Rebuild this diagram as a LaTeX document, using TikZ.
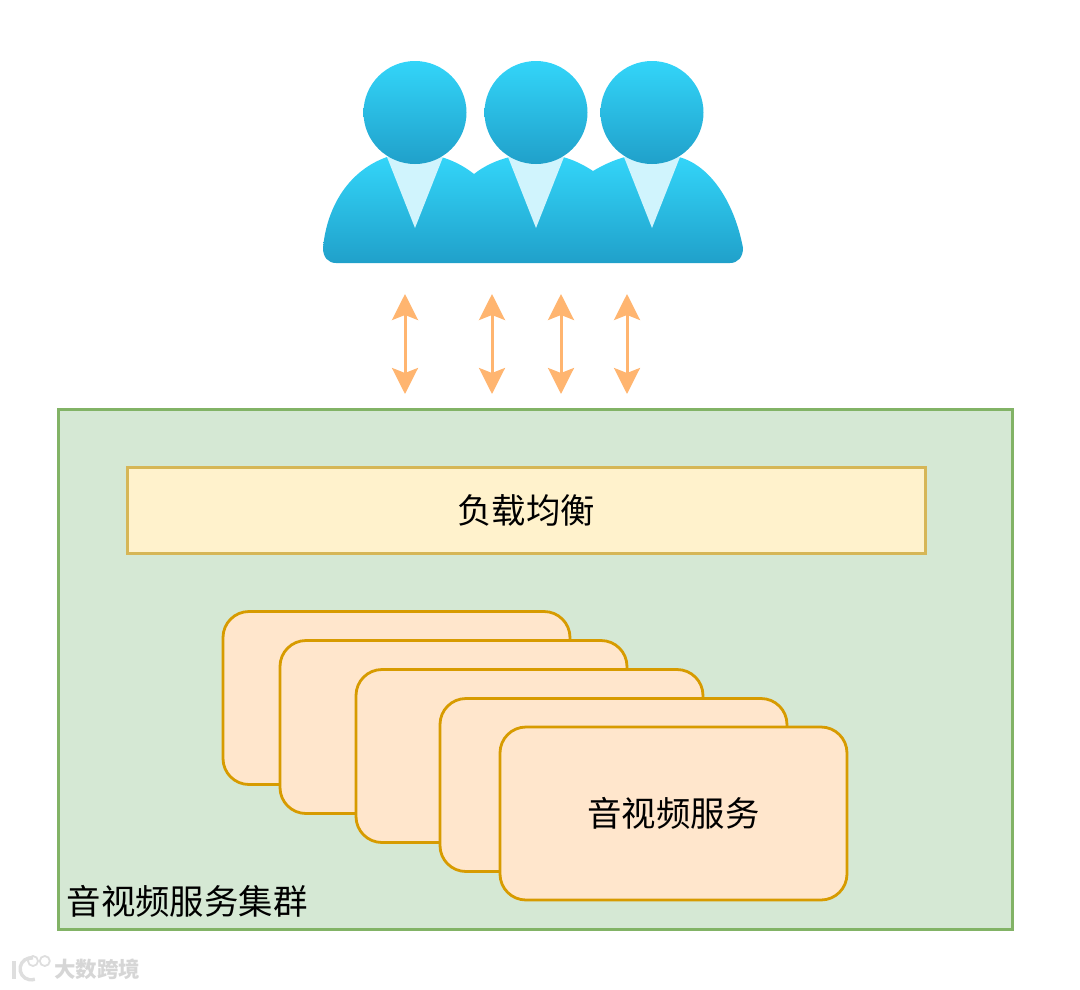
\documentclass[tikz,border=0pt]{standalone}
\usepackage{fontspec}
\usepackage{xcolor}
\usepackage{tikz}
\usetikzlibrary{arrows.meta,positioning}
\setmainfont{Noto Sans CJK SC}
\definecolor{skytop}{HTML}{33D5F9}
\definecolor{skybot}{HTML}{20A0CA}
\definecolor{collar}{HTML}{D0F4FD}
\definecolor{clusterline}{HTML}{82B366}
\definecolor{clusterfill}{HTML}{D5E8D4}
\definecolor{balanceline}{HTML}{D6B656}
\definecolor{balancefill}{HTML}{FFF2CC}
\definecolor{serviceline}{HTML}{D79B00}
\definecolor{servicefill}{HTML}{FFE6CC}
\definecolor{arrowline}{HTML}{FFB570}
\begin{document}
\begin{tikzpicture}[
  x=1pt, y=-1pt,
  font=\fontsize{34.4}{40}\selectfont,
  cluster/.style={draw=clusterline, line width=3pt, fill=clusterfill,
                  minimum width=954pt, minimum height=520pt, inner sep=0pt},
  balance/.style={draw=balanceline, line width=3pt, fill=balancefill,
                  minimum width=798pt, minimum height=86pt, inner sep=0pt},
  service/.style={draw=serviceline, line width=2.8pt, fill=servicefill, rounded corners=26pt,
                  minimum width=347pt, minimum height=173pt, inner sep=0pt},
  head/.style={circle, minimum size=103pt, inner sep=0pt,
               top color=skytop, middle color=skytop!72!skybot, bottom color=skybot},
  body/.style={top color=skytop, middle color=skytop!78!skybot, bottom color=skybot},
  arr/.style={{Stealth[length=26pt,width=26pt,inset=5pt]}-{Stealth[length=26pt,width=26pt,inset=5pt]},
              line width=3pt, arrowline},
  stampmark/.style={black!13, line width=3.4pt}
]
\useasboundingbox (0,0) rectangle (1080,989);
% --- users ---
\path[body] (336,263) .. controls (328,263) and (323,257) .. (323,248)
  .. controls (327,205) and (350,170) .. (387,157)
  -- (441,157) .. controls (452,160) and (464,166) .. (474,174)
  .. controls (484,166) and (497,160) .. (510,157)
  -- (563,157) .. controls (574,160) and (584,165) .. (593,171)
  .. controls (603,165) and (614,160) .. (625,157)
  -- (679,157) .. controls (712,166) and (735,205) .. (743,248)
  .. controls (743,257) and (738,263) .. (730,263) -- cycle;
\foreach \x in {415,536,652} {
  \fill[collar] (\x-28,157) -- (\x+28,157) -- (\x,228) -- cycle;
}
\node[head] (user1) at (415,112.5) {};
\node[head] (user2) at (536,112.5) {};
\node[head] (user3) at (652,112.5) {};
% --- cluster ---
\node[cluster] (group) at (535,669) {};
\node[balance] (lb) at (526,510) {\raisebox{-1pt}{负载均衡}};
\node[service] (svc1) at (396.5,698) {};
\node[service] (svc2) at (453.5,727) {};
\node[service] (svc3) at (529.5,756) {};
\node[service] (svc4) at (613.5,785) {};
\node[service] (svc5) at (673.5,813.5) {音视频服务};
\node[anchor=west, inner sep=0pt] (grouplabel) at (66.5,901) {音视频服务集群};
% --- arrows ---
\foreach \x [count=\i] in {405,492,561,627} {
  \coordinate (top\i) at (\x,294);
  \coordinate (bot\i) at (\x,394);
  \draw[arr] (top\i) -- (bot\i);
}
% --- watermark ---
\node[anchor=west, inner sep=0pt, black!16, font=\fontsize{21.5}{24}\selectfont\bfseries] (stamp) at (54,969.5) {大数跨境};
\draw[stampmark] (14,961) -- (14,979);
\draw[stampmark] (33,958) arc (80:290:11pt);
\node[circle, draw=black!13, line width=1.8pt, minimum size=10pt, inner sep=0pt] (dot1) at (33,961) {};
\node[circle, draw=black!13, line width=1.8pt, minimum size=10pt, inner sep=0pt, right=0pt of dot1] (dot2) {};
\end{tikzpicture}
\end{document}
